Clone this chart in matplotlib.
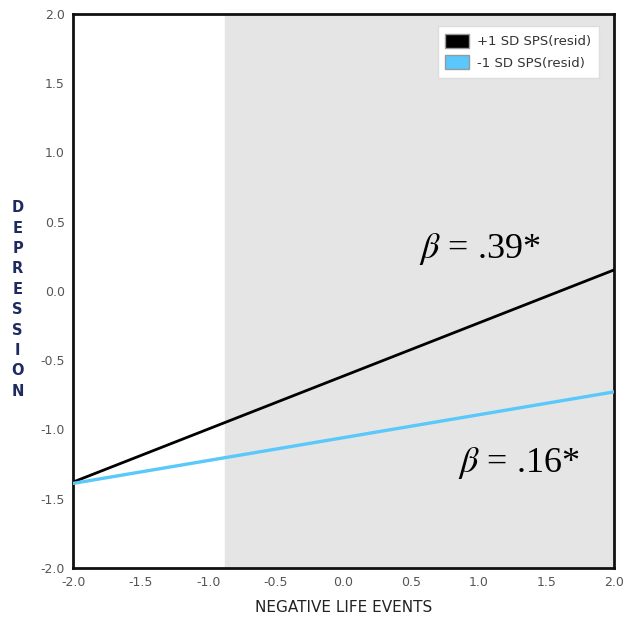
import matplotlib.pyplot as plt
from matplotlib.patches import Patch

plt.rcParams["mathtext.fontset"] = "stix"

x_ends = [-2.0, 2.0]
high_sps = [-1.38, 0.15]
low_sps = [-1.39, -0.73]
shade_start = -0.88
ticks = [-2.0, -1.5, -1.0, -0.5, 0.0, 0.5, 1.0, 1.5, 2.0]
labels = ["+1 SD SPS(resid)", "-1 SD SPS(resid)"]
colors = ["#000000", "#5ac8fa"]

fig = plt.figure(figsize=(6.27, 6.24), dpi=100)
ax = fig.add_axes([0.117, 0.09, 0.862, 0.888])

ax.axvspan(shade_start, 2.0, color="#e5e5e5", zorder=0)
ax.plot(x_ends, high_sps, color=colors[0], lw=2.0, zorder=3)
ax.plot(x_ends, low_sps, color=colors[1], lw=2.4, zorder=3)

ax.set_xlim(-2.0, 2.0)
ax.set_ylim(-2.0, 2.0)
ax.set_xticks(ticks)
ax.set_yticks(ticks)
ax.set_xticklabels([f"{t:.1f}" for t in ticks])
ax.set_yticklabels([f"{t:.1f}" for t in ticks])
ax.tick_params(length=0, labelsize=9, labelcolor="#555555", pad=6)
for s in ax.spines.values():
    s.set_linewidth(2)
    s.set_color("#111111")

ax.set_xlabel("NEGATIVE LIFE EVENTS", fontsize=11, color="#222222", labelpad=8)
fig.text(0.028, 0.52, "\n".join("DEPRESSION"), fontsize=10.5, color="#1f2a60",
         ha="center", va="center", linespacing=1.45, fontweight="semibold")

ax.text(0.56, 0.30, r"$\beta$ = .39*", fontsize=26, family="Liberation Serif",
        ha="left", va="center")
ax.text(0.85, -1.24, r"$\beta$ = .16*", fontsize=26, family="Liberation Serif",
        ha="left", va="center")

handles = [Patch(facecolor=c, edgecolor="#999999", label=l) for c, l in zip(colors, labels)]
leg = ax.legend(handles=handles, loc="upper right", fontsize=9.5, frameon=True,
                fancybox=False, handlelength=1.8, handleheight=1.3,
                borderpad=0.6, labelspacing=0.5, handletextpad=0.6,
                bbox_to_anchor=(0.985, 0.99))
leg.get_frame().set_edgecolor("#dddddd")
leg.get_frame().set_facecolor("white")
leg.get_frame().set_alpha(1)
for t in leg.get_texts():
    t.set_color("#333333")

fig.savefig("out.png", dpi=100)
